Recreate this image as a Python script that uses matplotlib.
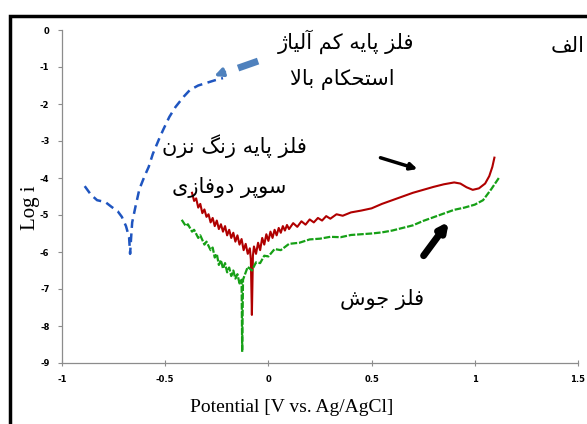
import unicodedata

import matplotlib
matplotlib.use("Agg")
import matplotlib.pyplot as plt
from matplotlib.patches import Rectangle

plt.rcParams["axes.unicode_minus"] = False

# ---- data ----
blue_x = [-0.89, -0.86, -0.83, -0.79, -0.76, -0.73, -0.71, -0.69, -0.675, -0.67,
          -0.665, -0.66, -0.645, -0.625, -0.60, -0.58, -0.56, -0.53, -0.51, -0.48,
          -0.45, -0.41, -0.38, -0.34, -0.30, -0.26, -0.22]
blue_y = [-4.22, -4.45, -4.60, -4.65, -4.78, -4.90, -5.05, -5.30, -5.60, -6.05,
          -5.60, -5.20, -4.80, -4.30, -3.95, -3.70, -3.35, -2.95, -2.70, -2.35,
          -2.08, -1.80, -1.62, -1.50, -1.43, -1.36, -1.30]

red_x = [-0.37, -0.36, -0.35, -0.34, -0.33, -0.32, -0.31, -0.30, -0.29, -0.28,
         -0.27, -0.26, -0.25, -0.24, -0.23, -0.22, -0.21, -0.20, -0.19, -0.18,
         -0.17, -0.16, -0.15, -0.14, -0.13, -0.12, -0.11, -0.10, -0.09, -0.085,
         -0.08, -0.075, -0.07, -0.06, -0.05, -0.04, -0.03, -0.02, -0.01, 0.0,
         0.01, 0.02, 0.03, 0.04, 0.05, 0.06, 0.07, 0.08, 0.09, 0.10,
         0.12, 0.14, 0.16, 0.18, 0.20, 0.22, 0.24, 0.26, 0.28, 0.30,
         0.33, 0.36, 0.40, 0.45, 0.50, 0.55, 0.60, 0.65, 0.70, 0.75,
         0.80, 0.85, 0.90, 0.93, 0.96, 0.99, 1.02, 1.05, 1.07, 1.085, 1.095]
red_y = [-4.40, -4.62, -4.55, -4.80, -4.70, -4.95, -4.85, -5.05, -4.98, -5.20,
         -5.08, -5.30, -5.15, -5.38, -5.25, -5.45, -5.30, -5.55, -5.40, -5.62,
         -5.48, -5.72, -5.55, -5.80, -5.65, -5.95, -5.78, -6.05, -5.90, -6.20,
         -7.70, -6.10, -5.85, -6.05, -5.75, -5.95, -5.62, -5.80, -5.52, -5.70,
         -5.45, -5.62, -5.40, -5.55, -5.35, -5.48, -5.30, -5.42, -5.27, -5.38,
         -5.22, -5.32, -5.17, -5.26, -5.12, -5.20, -5.08, -5.15, -5.03, -5.10,
         -4.98, -5.02, -4.93, -4.88, -4.82, -4.70, -4.60, -4.50, -4.40, -4.32,
         -4.24, -4.17, -4.12, -4.15, -4.25, -4.32, -4.28, -4.15, -3.95, -3.70, -3.45]

green_x = [-0.42, -0.40, -0.39, -0.37, -0.36, -0.34, -0.33, -0.31, -0.30, -0.28,
           -0.27, -0.26, -0.25, -0.24, -0.23, -0.22, -0.21, -0.20, -0.19, -0.18,
           -0.17, -0.16, -0.15, -0.14, -0.13, -0.127, -0.123, -0.11, -0.10, -0.08,
           -0.06, -0.04, -0.02, 0.0, 0.03, 0.06, 0.10, 0.15, 0.20, 0.25,
           0.30, 0.35, 0.40, 0.50, 0.55, 0.60, 0.65, 0.70, 0.75, 0.80,
           0.85, 0.90, 0.95, 1.00, 1.04, 1.08, 1.12]
green_y = [-5.13, -5.30, -5.25, -5.45, -5.40, -5.62, -5.55, -5.80, -5.72, -5.95,
           -5.88, -6.15, -6.05, -6.35, -6.22, -6.45, -6.30, -6.55, -6.42, -6.65,
           -6.50, -6.72, -6.60, -6.85, -6.75, -8.70, -6.75, -6.55, -6.40, -6.50,
           -6.28, -6.30, -6.10, -6.12, -5.92, -5.95, -5.78, -5.75, -5.66, -5.64,
           -5.59, -5.60, -5.54, -5.50, -5.47, -5.42, -5.35, -5.28, -5.16, -5.06,
           -4.96, -4.86, -4.80, -4.72, -4.60, -4.30, -3.97]

x_ticks = [-1, -0.5, 0, 0.5, 1, 1.5]
x_tick_labels = ["-1", "-0.5", "0", "0.5", "1", "1.5"]
y_ticks = [0, -1, -2, -3, -4, -5, -6, -7, -8, -9]

label_low_alloy_1 = "فلز پایه کم آلیاژ"
label_low_alloy_2 = "استحکام بالا"
label_duplex_1 = "فلز پایه زنگ نزن"
label_duplex_2 = "سوپر دوفازی"
label_weld = "فلز جوش"
label_panel = "الف"

RIGHT_ONLY = set("اآدذرزژوة")


def is_arabic(ch):
    return "\u0600" <= ch <= "\u06ff"


def form_of(ch, form):
    name = unicodedata.name(ch)
    try:
        return unicodedata.lookup(f"{name} {form} FORM")
    except KeyError:
        return ch


def shape(text):
    # minimal Persian shaping + RTL reversal (matplotlib draws LTR, unshaped)
    out = []
    i = 0
    n = len(text)
    while i < n:
        ch = text[i]
        if not is_arabic(ch):
            out.append(ch)
            i += 1
            continue
        prev = text[i - 1] if i > 0 else " "
        prev_joins = is_arabic(prev) and prev not in RIGHT_ONLY
        nxt = text[i + 1] if i + 1 < n else " "
        if ch == "ل" and nxt in "اآ":
            kind = "ALEF" if nxt == "ا" else "ALEF WITH MADDA ABOVE"
            f = "FINAL" if prev_joins else "ISOLATED"
            out.append(unicodedata.lookup(f"ARABIC LIGATURE LAM WITH {kind} {f} FORM"))
            i += 2
            continue
        next_joins = ch not in RIGHT_ONLY and is_arabic(nxt)
        if prev_joins and next_joins:
            f = "MEDIAL"
        elif prev_joins:
            f = "FINAL"
        elif next_joins:
            f = "INITIAL"
        else:
            f = "ISOLATED"
        out.append(form_of(ch, f))
        i += 1
    return "".join(reversed(out))


W, H = 587, 424
fig = plt.figure(figsize=(W / 100, H / 100), dpi=100)

# frame of the document figure (left and top edges visible)
fig.patches.append(Rectangle((10 / W, -0.1), 1.2, 1 - 16 / H + 0.1,
                             transform=fig.transFigure, fill=False,
                             edgecolor="black", linewidth=2.5))

ax = fig.add_axes([62 / W, 1 - 363 / H, (578 - 62) / W, (363 - 30) / H])

ax.plot(blue_x, blue_y, color="#1f55c0", lw=1.8, linestyle=(0, (3.5, 2.2)))
ax.plot(red_x, red_y, color="#b00000", lw=1.5)
ax.plot(green_x, green_y, color="#16a016", lw=1.6, linestyle=(0, (3, 0.8)))

ax.set_xlim(-1, 1.5)
ax.set_ylim(-9, 0)
ax.set_xticks(x_ticks)
ax.set_xticklabels(x_tick_labels)
ax.set_yticks(y_ticks)
for s in ["top", "right"]:
    ax.spines[s].set_visible(False)
for s in ["left", "bottom"]:
    ax.spines[s].set_color("#8c8c8c")
    ax.spines[s].set_linewidth(0.9)
ax.tick_params(axis="y", direction="out", length=3, width=0.8, color="#8c8c8c",
               labelsize=6, pad=6)
ax.tick_params(axis="x", direction="inout", length=4, width=0.8, color="#8c8c8c",
               labelsize=6, pad=7)
for lab in ax.get_xticklabels() + ax.get_yticklabels():
    lab.set_fontweight("bold")

fig.text(292 / W, 1 - 408 / H, "Potential [V vs. Ag/AgCl]", family="Liberation Serif",
         fontsize=14, ha="center", va="center")
fig.text(30 / W, 1 - 208 / H, "Log i", family="Liberation Serif", fontsize=15,
         rotation=90, ha="center", va="center")

# annotations
persian = dict(family="DejaVu Sans", fontsize=15, ha="center", va="center")
fig.text(346 / W, 1 - 42 / H, shape(label_low_alloy_1), **persian)
fig.text(342 / W, 1 - 80 / H, shape(label_low_alloy_2), **persian)
fig.text(234 / W, 1 - 146 / H, shape(label_duplex_1), **persian)
fig.text(229 / W, 1 - 187 / H, shape(label_duplex_2), **persian)
fig.text(382 / W, 1 - 300 / H, shape(label_weld), **persian)
fig.text(568 / W, 1 - 45 / H, shape(label_panel), **persian)

ax.plot([-0.05, -0.147], [-0.84, -1.03], color="#4f81bd", lw=5, solid_capstyle="butt")
ax.annotate("", xy=(-0.275, -1.27), xytext=(-0.20, -1.11),
            arrowprops=dict(arrowstyle="-|>", color="#4f81bd", lw=2.5,
                            mutation_scale=12))
ax.annotate("", xy=(0.735, -3.78), xytext=(0.53, -3.43),
            arrowprops=dict(arrowstyle="-|>", color="black", lw=2.5,
                            mutation_scale=10))
ax.annotate("", xy=(0.882, -5.12), xytext=(0.744, -6.16),
            arrowprops=dict(arrowstyle="-|>", color="black", lw=5,
                            mutation_scale=12))

fig.savefig("out.png", dpi=100)
